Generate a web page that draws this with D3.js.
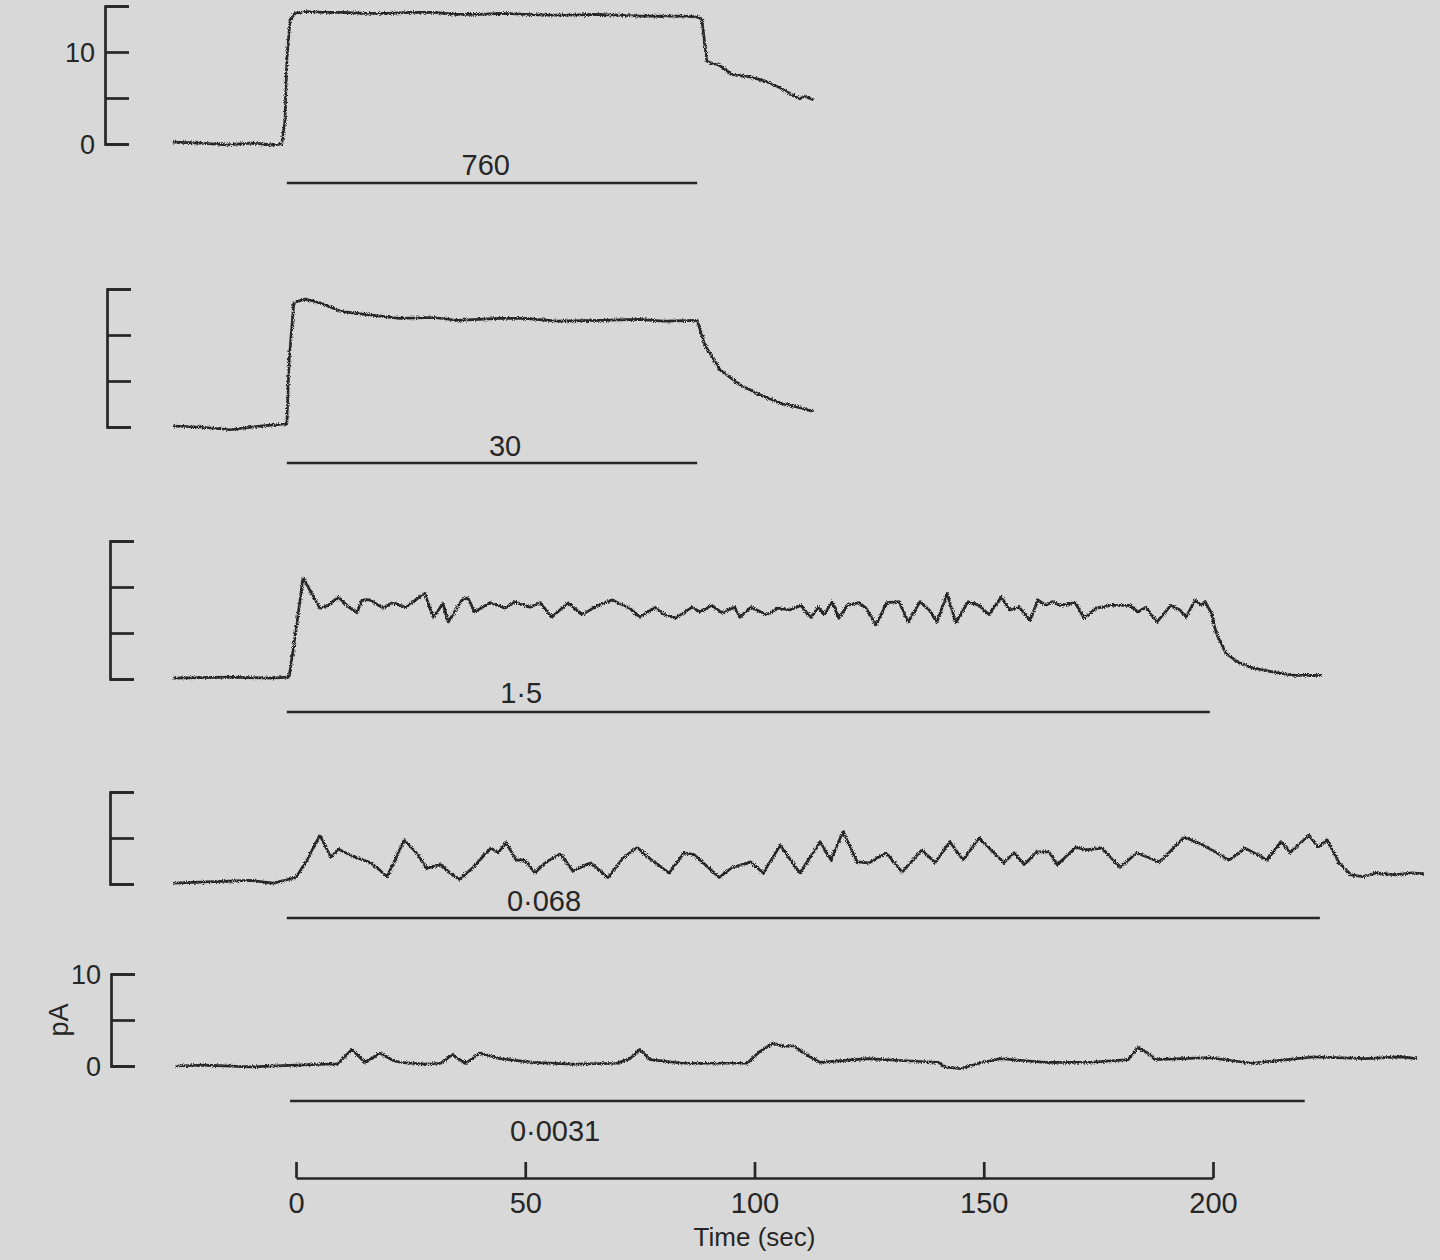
<!DOCTYPE html>
<html>
<head>
<meta charset="utf-8">
<script src="https://cdn.jsdelivr.net/npm/d3@7"></script>
<style>
  html, body { margin: 0; padding: 0; background: #d8d8d8; }
  svg { display: block; }
  text { font-family: "Liberation Sans", Arial, sans-serif; fill: #262626; }
</style>
</head>
<body>
<div id="chart"></div>
<script>
// recordings: [time (s), current (pA)]
var trace760 = [
  [-26.8,0.2],[-20.9,0.1],[-15,-0.1],[-10,0.1],[-5,-0.1],[-3.1,0.0],[-2.4,2.6],[-2.0,9.1],[-1.3,13.5],[-0.2,14.2],
  [2,14.4],[6,14.3],[10,14.3],[15,14.2],[20,14.2],[25,14.3],[30,14.3],[35,14.1],[40,14.1],[45,14.2],[50,14.1],
  [55,14.0],[60,14.0],[65,14.1],[70,14.0],[75,13.9],[80,13.9],[85,13.9],[87.5,13.8],[88.5,13.6],[89.6,9.0],
  [92.5,8.5],[95.3,7.5],[99,7.3],[101.2,7.0],[103,6.7],[105.6,6.1],[107.7,5.5],[109.9,4.9],[110.9,5.2],[112.8,4.8]
];
var trace30 = [
  [-26.8,0.1],[-20.9,0.0],[-14.4,-0.3],[-7.9,0.1],[-3,0.3],[-2.0,0.3],[-1.5,7.3],[-0.5,13.3],[0,13.6],[2,13.9],
  [5.2,13.5],[9.6,12.6],[14,12.3],[22.7,11.8],[30,11.9],[35,11.6],[44.5,11.8],[50,11.8],[57,11.5],[66.3,11.6],
  [75,11.7],[80,11.5],[87.5,11.6],[89.2,8.9],[92.5,6.2],[96.8,4.6],[101.2,3.5],[105.6,2.6],[109.9,2.1],[112.8,1.7]
];
var trace1_5 = [
  [-26.8,0.1],[-15,0.2],[-5,0.1],[-2,0.2],[-1.5,0.2],[0,5.3],[0.9,8.6],[1.5,11.0],[2.4,10.2],[5.2,7.7],[7.0,8.0],
  [9.2,8.9],[11.8,7.7],[13.3,7.2],[14.4,8.6],[16.1,8.6],[19.0,7.7],[21.2,8.3],[23.8,7.8],[28.1,9.3],[29.9,6.7],
  [32.1,8.2],[33.2,6.2],[36.2,8.6],[37.5,8.8],[39.0,7.3],[42.3,8.3],[45.6,7.7],[47.8,8.4],[51.0,7.8],[53.2,8.3],
  [55.8,6.7],[59.3,8.3],[62.4,7.0],[65.9,8.0],[68.9,8.6],[72.8,7.7],[75.0,6.7],[78.3,7.8],[80.0,7.1],[82.7,6.6],
  [86.4,7.8],[88.1,7.3],[90.7,8.0],[92.9,7.2],[95.7,7.8],[96.8,6.7],[99.2,7.8],[102.7,7.0],[105.1,7.7],[107.7,7.5],
  [110.1,8.0],[112.3,6.7],[113.9,7.8],[115.2,7.0],[116.9,8.4],[118.4,6.6],[120.2,8.0],[122.8,8.3],[124.3,7.7],
  [126.5,5.9],[128.9,8.3],[131.5,8.4],[133.5,6.2],[136.1,8.4],[138.1,7.5],[139.8,6.2],[142.0,9.3],[143.9,6.1],
  [146.6,8.4],[149.0,8.0],[151.1,7.0],[153.8,8.9],[155.7,7.5],[157.7,7.8],[160.1,6.4],[161.8,8.6],[163.6,8.0],
  [164.9,8.4],[166.8,8.0],[169.9,8.3],[171.9,6.6],[174.5,7.7],[177.8,8.0],[181.9,8.0],[183.6,7.3],[185.4,7.8],
  [186.5,7.0],[187.8,6.2],[190.8,8.0],[192.8,7.5],[194.1,6.7],[196.1,8.6],[197.4,8.0],[198.3,8.4],[199.6,7.2],
  [200.7,5.0],[202.8,2.8],[205.5,1.8],[208.7,1.2],[213.7,0.7],[217.9,0.4],[223.8,0.4]
];
var trace0_068 = [
  [-26.8,0.1],[-20.9,0.2],[-10,0.4],[-5,0.1],[0,0.7],[2.4,2.6],[5.2,5.3],[7.6,2.9],[9.2,3.8],[12.4,3.0],[15.9,2.4],
  [18.3,1.5],[19.8,0.8],[21.6,2.6],[23.6,4.8],[26.6,3.2],[28.4,1.7],[31.6,2.1],[33.4,1.3],[35.6,0.5],[38.4,1.7],
  [42.5,3.9],[44.1,3.4],[45.8,4.5],[48.0,2.6],[49.9,2.6],[52.1,1.2],[54.3,2.3],[57.6,3.3],[60.4,1.4],[64.3,2.3],
  [68.0,0.7],[71.3,2.8],[74.4,4.0],[76.8,2.9],[81.4,1.2],[84.6,3.4],[86.8,3.2],[92.3,0.7],[95.1,1.8],[99.2,2.4],
  [101.9,1.2],[105.6,4.2],[109.9,1.2],[114.3,4.6],[116.7,2.6],[119.3,5.7],[122.4,2.4],[125.0,2.3],[128.7,3.4],
  [132.2,1.3],[136.5,3.7],[139.4,2.3],[142.6,4.6],[145.5,2.6],[149.0,5.0],[154.4,2.3],[156.6,3.4],[158.8,2.1],
  [161.6,3.5],[164.2,3.5],[166.0,2.1],[170.1,4.0],[172.3,3.7],[175.8,3.9],[179.7,1.8],[183.4,3.4],[188.2,2.4],
  [190.0,3.2],[193.7,5.1],[198.0,4.2],[203.5,2.6],[207.0,3.9],[209.6,3.2],[211.8,2.6],[214.8,4.6],[216.8,3.4],
  [220.9,5.3],[222.9,4.0],[224.9,4.8],[227.5,2.3],[230.1,1.0],[232.7,0.8],[235.6,1.2],[239.9,1.0],[243.4,1.2],[246.0,1.1]
];
var trace0_0031 = [
  [-26.3,0.0],[-20,0.1],[-10,-0.1],[0,0.1],[6.8,0.2],[9,0.2],[12.2,1.8],[15.0,0.4],[18.3,1.4],[21.2,0.6],[22.7,0.4],
  [28.1,0.2],[31.6,0.3],[34.0,1.2],[37.0,0.3],[40.1,1.4],[44.5,0.8],[51.7,0.4],[60.4,0.2],[70.0,0.3],[72.8,0.8],
  [75.0,1.8],[77.2,0.7],[84.4,0.3],[98.4,0.3],[101.2,1.6],[104.1,2.5],[106.3,2.1],[108.5,2.2],[112.1,1.0],[114.3,0.4],
  [124.6,0.8],[131.8,0.6],[140.1,0.4],[141.6,-0.1],[144.9,-0.3],[149.0,0.3],[153.6,0.8],[163.4,0.4],[173.2,0.4],
  [181.5,0.7],[183.6,2.0],[185.8,1.4],[187.3,0.7],[199.3,0.9],[208.5,0.3],[222.0,1.0],[233.3,0.8],[240.8,1.0],[244.5,0.8]
];

var traces = [trace760, trace30, trace1_5, trace0_068, trace0_0031];
var concLabels = ["760", "30", "1·5", "0·068", "0·0031"];
var stimOn = [-2, -2, -2, -2, -1.3];
var stimOff = [87.5, 87.5, 199.3, 223.3, 220];
var scaleMax = [15, 15, 15, 10, 10];
var scaleTicks = [[0, 5, 10, 15], [0, 5, 10, 15], [0, 5, 10, 15], [0, 5, 10], [0, 5, 10]];
var timeTicks = [0, 50, 100, 150, 200];

// layout of the five stacked rows
var rows = [
  { base: 144,  axisX: 105, barDy: 39, labelT: 41.4, labelY: 175,  tickLabels: true },
  { base: 427,  axisX: 107, barDy: 36, labelT: 45.6, labelY: 456,  tickLabels: false },
  { base: 679,  axisX: 110, barDy: 33, labelT: 49.1, labelY: 703,  tickLabels: false },
  { base: 884,  axisX: 110, barDy: 34, labelT: 54.1, labelY: 911,  tickLabels: false },
  { base: 1066, axisX: 111, barDy: 35, labelT: 56.5, labelY: 1141, tickLabels: true }
];
var pxPerPA = 9.2;
var ink = "#262626";

var width = 1440, height = 1260;

var svg = d3.select("#chart").append("svg")
    .attr("width", width)
    .attr("height", height);

// slight jitter so the pen traces look like chart-recorder ink
var defs = svg.append("defs");
var rough = defs.append("filter")
    .attr("id", "rough")
    .attr("filterUnits", "userSpaceOnUse")
    .attr("x", 0).attr("y", 0).attr("width", width).attr("height", height);
rough.append("feTurbulence")
    .attr("type", "fractalNoise")
    .attr("baseFrequency", 1.1)
    .attr("numOctaves", 2)
    .attr("seed", 4)
    .attr("result", "noise");
rough.append("feDisplacementMap")
    .attr("in", "SourceGraphic")
    .attr("in2", "noise")
    .attr("scale", 4)
    .attr("xChannelSelector", "R")
    .attr("yChannelSelector", "G");

svg.append("rect")
    .attr("width", width)
    .attr("height", height)
    .attr("fill", "#d8d8d8");

var x = d3.scaleLinear().domain([0, 200]).range([296, 1213]);

rows.forEach(function(row, i) {
  var y = d3.scaleLinear()
      .domain([0, scaleMax[i]])
      .range([row.base, row.base - scaleMax[i] * pxPerPA]);

  var g = svg.append("g");

  // current scale bar
  var yAxis = d3.axisRight(y)
      .tickValues(scaleTicks[i])
      .tickSizeInner(24)
      .tickSizeOuter(24)
      .tickFormat("");
  var ag = g.append("g")
      .attr("transform", "translate(" + row.axisX + ",0)")
      .call(yAxis);
  ag.selectAll("path, line")
      .attr("stroke", ink)
      .attr("stroke-width", 2.7);

  if (row.tickLabels) {
    g.selectAll(".ylab")
        .data([0, 10])
      .enter().append("text")
        .attr("x", row.axisX - 10)
        .attr("y", function(d) { return y(d); })
        .attr("dy", "0.36em")
        .attr("text-anchor", "end")
        .style("font-size", "27px")
        .text(function(d) { return d; });
  }

  // trace
  var line = d3.line()
      .x(function(d) { return x(d[0]); })
      .y(function(d) { return y(d[1]); });

  g.append("path")
      .datum(traces[i])
      .attr("d", line)
      .attr("fill", "none")
      .attr("stroke", ink)
      .attr("stroke-width", 2.7)
      .attr("stroke-linejoin", "round")
      .attr("filter", "url(#rough)");

  // stimulus bar + concentration
  g.append("line")
      .attr("x1", x(stimOn[i]))
      .attr("x2", x(stimOff[i]))
      .attr("y1", row.base + row.barDy)
      .attr("y2", row.base + row.barDy)
      .attr("stroke", ink)
      .attr("stroke-width", 2.5);

  g.append("text")
      .attr("x", x(row.labelT))
      .attr("y", row.labelY)
      .attr("text-anchor", "middle")
      .style("font-size", "29px")
      .text(concLabels[i]);
});

// pA unit on the last row
svg.append("text")
    .attr("transform", "translate(68,1020) rotate(-90)")
    .attr("text-anchor", "middle")
    .style("font-size", "27px")
    .text("pA");

// time axis
var xAxis = d3.axisBottom(x)
    .tickValues(timeTicks)
    .tickSizeInner(-16)
    .tickSizeOuter(0)
    .tickPadding(14);

var tg = svg.append("g")
    .attr("transform", "translate(0,1178)")
    .call(xAxis);
tg.selectAll("path, line")
    .attr("stroke", ink)
    .attr("stroke-width", 2.7);
tg.selectAll("text")
    .style("font-size", "29px")
    .style("font-family", "'Liberation Sans', Arial, sans-serif")
    .attr("fill", "#262626");

svg.append("text")
    .attr("x", x(100))
    .attr("y", 1246)
    .attr("text-anchor", "middle")
    .style("font-size", "26px")
    .text("Time (sec)");
</script>
</body>
</html>
